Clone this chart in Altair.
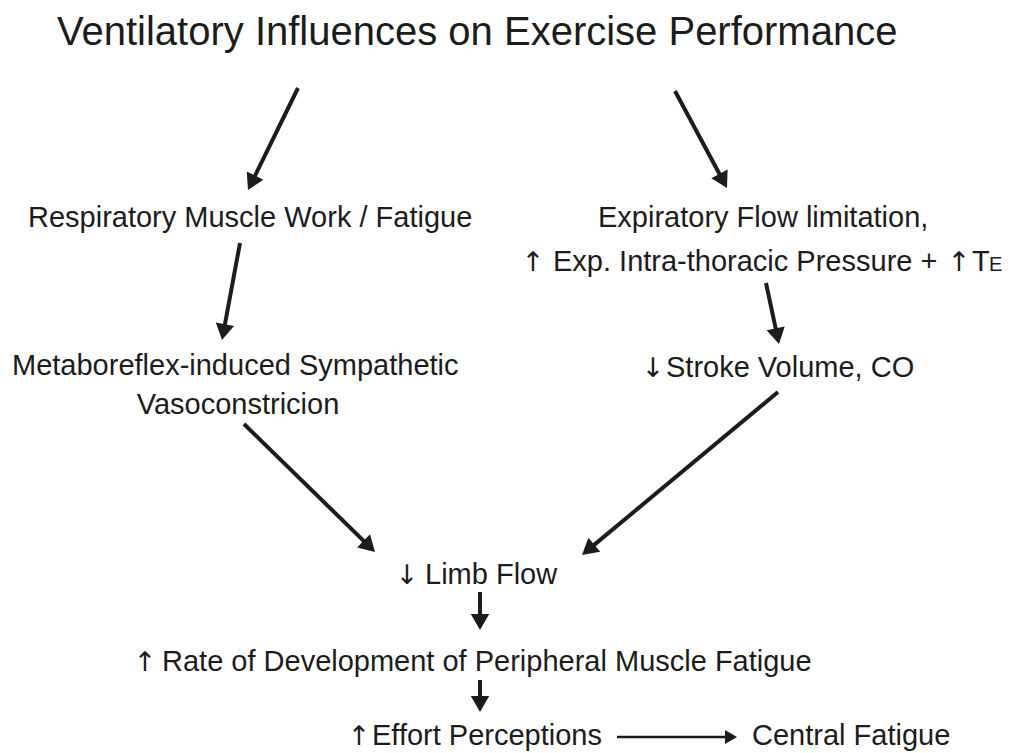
import math
import altair as alt
import pandas as pd

# ---- text pieces (left-aligned unless noted) ----
title_text = ["Ventilatory Influences on Exercise Performance"]
title_x = [57]
title_y = [45]

left_labels = [
    "Respiratory Muscle Work / Fatigue",
    "Expiratory Flow limitation,",
    "Exp. Intra-thoracic Pressure +",
    "T",
    "E",
    "Metaboreflex-induced Sympathetic",
    "Stroke Volume, CO",
    "Limb Flow",
    "Rate of Development of Peripheral Muscle Fatigue",
    "Effort Perceptions",
    "Central Fatigue",
]
left_x = [28, 598, 553, 972, 989, 12, 666, 425, 162, 372, 752]
left_y = [227, 227, 271, 271, 271, 375, 377, 584, 671, 745, 745]
left_size = [29, 29, 29, 29, 20, 29, 29, 29, 29, 29, 29]

center_labels = ["Vasoconstricion"]
center_x = [238]
center_y = [414]

# arrow glyphs that precede some labels (centred)
glyph_labels = ["\u2191", "\u2191", "\u2193", "\u2193", "\u2191", "\u2191"]
glyph_x = [533, 959, 653, 407, 145, 359]
glyph_y = [271, 271, 377, 584, 671, 745]

# ---- connecting arrows (start -> tip) ----
arrow_x1 = [298, 675, 240, 766, 244, 778, 480, 480, 617]
arrow_y1 = [88, 91, 243, 283, 424, 392, 592, 680, 737]
arrow_x2 = [248, 727, 222, 779, 375, 582, 480, 480, 737]
arrow_y2 = [190, 188, 340, 344, 552, 555, 630, 712, 737]
arrow_w = [4, 4, 4, 4, 4, 4, 4, 4, 2.5]
head_len = [16, 16, 16, 16, 16, 16, 16, 16, 12]

INK = "#1c1c1c"
FONT = "Liberation Sans"

shafts, heads = [], []
for i in range(len(arrow_x1)):
    dx = arrow_x2[i] - arrow_x1[i]
    dy = arrow_y2[i] - arrow_y1[i]
    L = math.hypot(dx, dy)
    ux, uy = dx / L, dy / L
    hl = head_len[i]
    side = hl / (math.sqrt(3) / 2)
    cx = arrow_x2[i] - ux * hl / 2
    cy = arrow_y2[i] - uy * hl / 2
    ang = math.degrees(math.atan2(dx, -dy)) % 360
    shafts.append(dict(x=arrow_x1[i], y=arrow_y1[i], x2=cx, y2=cy, w=arrow_w[i]))
    heads.append(dict(x=cx, y=cy, angle=ang, s=side * side))

shaft_df = pd.DataFrame(shafts)
head_df = pd.DataFrame(heads)

xs = alt.Scale(domain=[8, 1002], nice=False, zero=False)
ys = alt.Scale(domain=[8, 753], nice=False, zero=False, reverse=True)

def X(f="x"):
    return alt.X(f"{f}:Q", scale=xs, axis=None)

def Y(f="y"):
    return alt.Y(f"{f}:Q", scale=ys, axis=None)

title_df = pd.DataFrame(dict(x=title_x, y=title_y, t=title_text))
left_df = pd.DataFrame(dict(x=left_x, y=left_y, t=left_labels, s=left_size))
center_df = pd.DataFrame(dict(x=center_x, y=center_y, t=center_labels))
glyph_df = pd.DataFrame(dict(x=glyph_x, y=glyph_y, t=glyph_labels))

title_layer = alt.Chart(title_df).mark_text(
    font=FONT, fontSize=40, align="left", baseline="alphabetic", color=INK
).encode(x=X(), y=Y(), text="t:N")

left_layer = alt.Chart(left_df).mark_text(
    font=FONT, align="left", baseline="alphabetic", color=INK
).encode(x=X(), y=Y(), text="t:N", size=alt.Size("s:Q", scale=None, legend=None))

center_layer = alt.Chart(center_df).mark_text(
    font=FONT, fontSize=29, align="center", baseline="alphabetic", color=INK
).encode(x=X(), y=Y(), text="t:N")

glyph_layer = alt.Chart(glyph_df).mark_text(
    font="DejaVu Sans", fontSize=27, fontWeight="normal", align="center",
    baseline="alphabetic", color=INK
).encode(x=X(), y=Y(), text="t:N")

shaft_layer = alt.Chart(shaft_df).mark_rule(color=INK, strokeCap="butt").encode(
    x=X(), y=Y(), x2=alt.X2("x2:Q"), y2=alt.Y2("y2:Q"),
    strokeWidth=alt.StrokeWidth("w:Q", scale=None, legend=None),
)

head_layer = alt.Chart(head_df).mark_point(
    shape="triangle-up", filled=True, color=INK, opacity=1, strokeWidth=0
).encode(
    x=X(), y=Y(),
    angle=alt.Angle("angle:Q", scale=None),
    size=alt.Size("s:Q", scale=None, legend=None),
)

chart = (
    alt.layer(shaft_layer, head_layer, title_layer, left_layer, center_layer, glyph_layer)
    .properties(width=994, height=745, padding=0,
                autosize=alt.AutoSizeParams(type="none"), background="white")
    .configure_view(strokeWidth=0)
)

chart.save("out.html", embed_options={"renderer": "svg", "actions": False})
